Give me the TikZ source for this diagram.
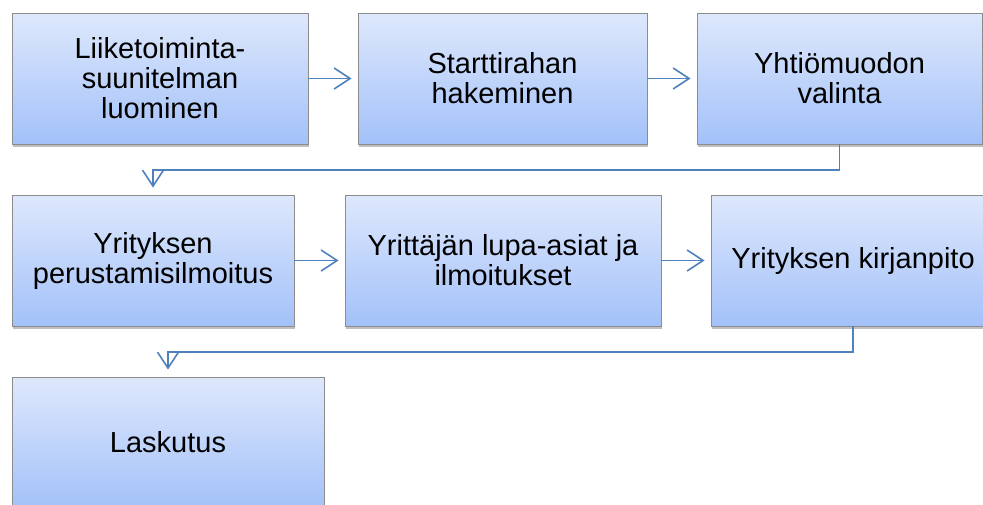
\documentclass[tikz,border=0pt]{standalone}
\usepackage{fontspec}
\setmainfont{Liberation Sans}
\usetikzlibrary{arrows.meta,shadows,calc}
\definecolor{boxtop}{RGB}{222,232,252}
\definecolor{boxbot}{RGB}{163,193,249}
\definecolor{boxedge}{RGB}{140,140,140}
\definecolor{linkblue}{RGB}{79,129,189}
\tikzset{
  stepbox/.style={rectangle, draw=boxedge, line width=0.9pt,
    top color=boxtop, bottom color=boxbot, minimum height=131pt,
    inner sep=0pt, align=center, font=\fontsize{29}{30}\selectfont,
    drop shadow={shadow xshift=1pt, shadow yshift=-3pt, opacity=0.25, fill=black}},
  link/.style={draw=linkblue, line width=1.6pt,
    -{Straight Barb[length=16pt,width=21pt,line width=1.6pt]}, shorten >=6pt}
}
\begin{document}
\begin{tikzpicture}[x=1pt,y=-1pt]
\clip (0,0) rectangle (983,504);
\fill[white] (0,0) rectangle (983,504);
\node[stepbox, minimum width=296pt] (b1) at (160,78.5) {Liiketoiminta-\\suunitelman\\luominen};
\node[stepbox, minimum width=289pt] (b2) at (502.5,78.5) {Starttirahan\\hakeminen};
\node[stepbox, minimum width=285pt] (b3) at (839.5,78.5) {Yhtiömuodon\\valinta};
\node[stepbox, minimum width=282pt] (b4) at (153,260.5) {Yrityksen\\perustamisilmoitus};
\node[stepbox, minimum width=316pt] (b5) at (503,260.5) {Yrittäjän lupa-asiat ja\\ilmoitukset};
\node[stepbox, minimum width=284pt] (b6) at (853,260.5) {Yrityksen kirjanpito};
\node[stepbox, minimum width=312pt] (b7) at (168,442.5) {Laskutus};
\coordinate (m1) at (0,170);
\coordinate (m2) at (0,352);
\draw[link] (b1.east) -- (b2.west);
\draw[link] (b2.east) -- (b3.west);
\draw[link, shorten >=7pt] (b3.south) |- (m1 -| b4.north) -- (b4.north);
\draw[link] (b4.east) -- (b5.west);
\draw[link] (b5.east) -- (b6.west);
\draw[link, shorten >=7pt] (b6.south) |- (m2 -| b7.north) -- (b7.north);
\end{tikzpicture}
\end{document}
